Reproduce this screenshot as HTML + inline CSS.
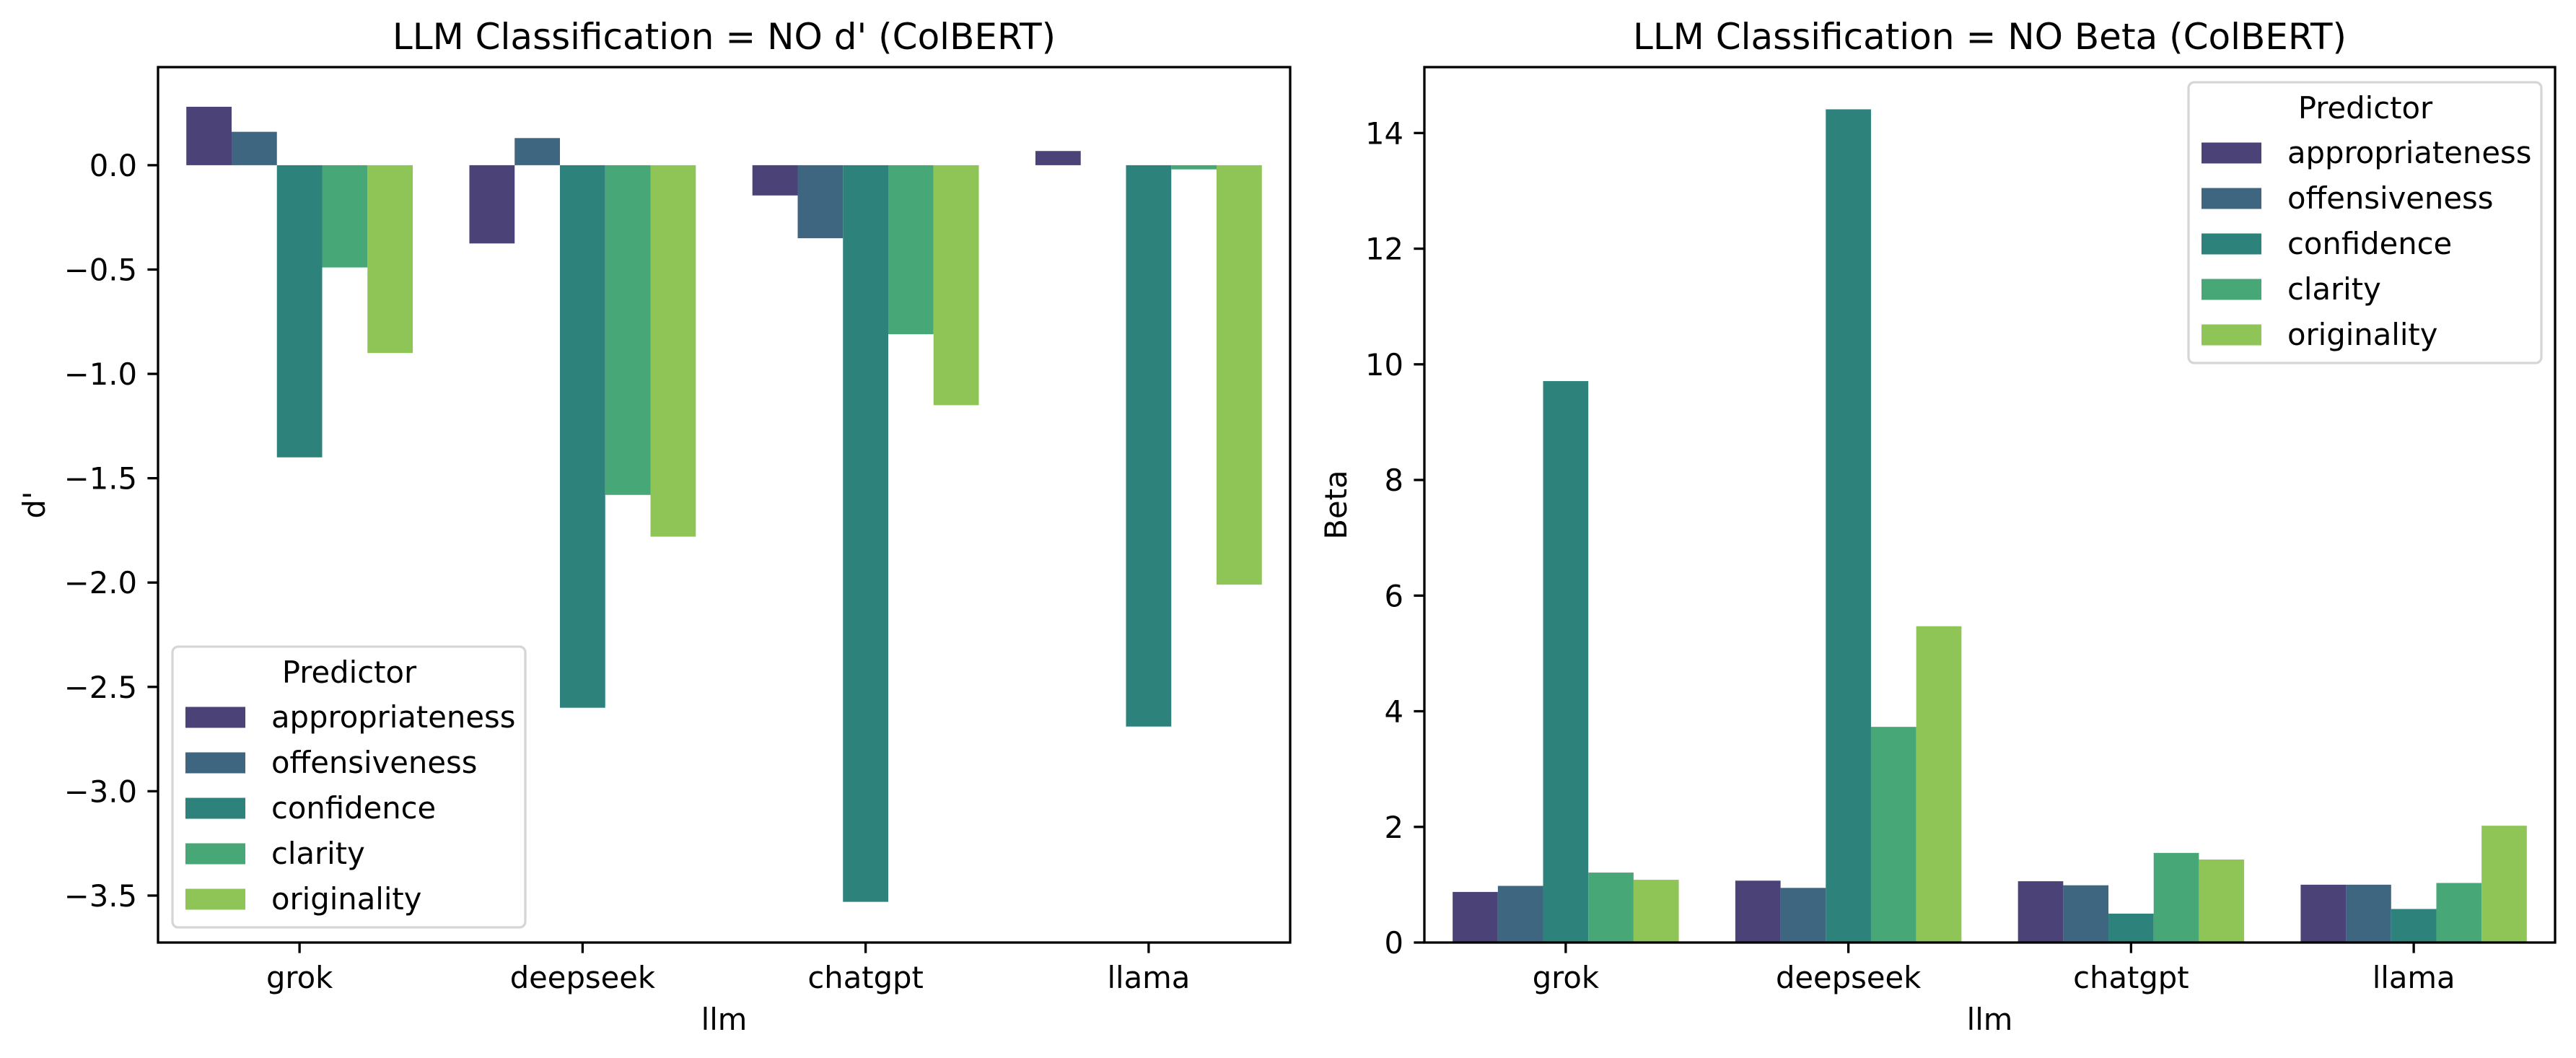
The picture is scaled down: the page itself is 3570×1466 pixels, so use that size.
<!DOCTYPE html>
<html><head><meta charset="utf-8">
<style>
html,body{margin:0;padding:0;background:#fff;}
svg{display:block;font-family:"DejaVu Sans","Liberation Sans",sans-serif;}
</style></head>
<body>
<svg id="fig" width="3570" height="1466" viewBox="0 0 3570 1466" xmlns="http://www.w3.org/2000/svg">
<rect width="3570" height="1466" fill="#fff"/>
</svg>
<script>
const categories = ["grok","deepseek","chatgpt","llama"];
const predictors = ["appropriateness","offensiveness","confidence","clarity","originality"];
const colors = ["#4b4277","#3e6680","#2e827c","#47a777","#8fc456"];
// d' values per predictor (rows) across categories
const dAppropriateness = [0.28, -0.375, -0.145, 0.068];
const dOffensiveness   = [0.16, 0.13, -0.35, 0.0];
const dConfidence      = [-1.40, -2.60, -3.53, -2.69];
const dClarity         = [-0.49, -1.58, -0.81, -0.02];
const dOriginality     = [-0.90, -1.78, -1.15, -2.01];
// Beta values
const bAppropriateness = [0.875, 1.07, 1.06, 1.0];
const bOffensiveness   = [0.98, 0.945, 0.99, 1.0];
const bConfidence      = [9.71, 14.41, 0.50, 0.58];
const bClarity         = [1.21, 3.73, 1.55, 1.03];
const bOriginality     = [1.085, 5.47, 1.435, 2.02];
const dTicks = [0.0,-0.5,-1.0,-1.5,-2.0,-2.5,-3.0,-3.5];
const dTickLabels = ["0.0","\u22120.5","\u22121.0","\u22121.5","\u22122.0","\u22122.5","\u22123.0","\u22123.5"];
const bTicks = [0,2,4,6,8,10,12,14];
const bTickLabels = ["0","2","4","6","8","10","12","14"];

const NS="http://www.w3.org/2000/svg";
const svg=document.getElementById('fig');
function mk(tag,attrs,parent){const e=document.createElementNS(NS,tag);for(const k in attrs)e.setAttribute(k,attrs[k]);(parent||svg).appendChild(e);return e;}

function drawPanel(opt){
  const g=mk('g',{});
  
  
  const L=opt.x0,R=opt.x1,T=93,B=1306;
  const y=v=>B-(v-opt.ymin)/(opt.ymax-opt.ymin)*(B-T);
  const band=(R-L)/categories.length;
  const bw=band*0.8/predictors.length;
  const xc=i=>L+band*(i+0.5);
  opt.series.forEach((arr,s)=>{
    arr.forEach((v,i)=>{
      const x=xc(i)-band*0.4+s*bw;
      const y0=y(0),y1=y(v);
      const r=mk('rect',{x:x,y:Math.min(y0,y1),width:bw,height:Math.abs(y1-y0),fill:colors[s]},g);
      
      
    });
  });
  const fr=mk('rect',{x:L,y:T,width:R-L,height:B-T,fill:'none',stroke:'#000','stroke-width':3.3},g);
  
  
  opt.ticks.forEach((t,k)=>{
    const yy=y(t);
    mk('line',{x1:L-14.6,x2:L,y1:yy,y2:yy,stroke:'#000','stroke-width':3.3},g);
    const tx=mk('text',{x:L-29,y:yy+15,'text-anchor':'end','font-size':41.7,fill:'#000'},g);
    tx.textContent=opt.tickLabels[k];
    
    
  });
  categories.forEach((c,i)=>{
    mk('line',{x1:xc(i),x2:xc(i),y1:B,y2:B+14.6,stroke:'#000','stroke-width':3.3},g);
    const tx=mk('text',{x:xc(i),y:1369,'text-anchor':'middle','font-size':41.7,fill:'#000'},g);
    tx.textContent=c;
    
    
  });
  const xl=mk('text',{x:(L+R)/2,y:1427,'text-anchor':'middle','font-size':41.7,fill:'#000'},g);
  xl.textContent='llm';
  
  
  const yl=mk('text',{x:0,y:0,'text-anchor':'middle','font-size':41.7,fill:'#000',transform:'translate('+opt.ylabX+','+((T+B)/2)+') rotate(-90)'},g);
  yl.textContent=opt.ylabel;
  
  
  const ti=mk('text',{x:(L+R)/2,y:68,'text-anchor':'middle','font-size':50,fill:'#000'},g);
  ti.textContent=opt.title;
  
  
  const lg=mk('g',{},g);
  
  
  const lx=opt.legX,ly=opt.legY;
  mk('rect',{x:lx,y:ly,width:489,height:389,rx:8,fill:'#fff','fill-opacity':0.8,stroke:'#d6d6d6','stroke-width':3.3},lg);
  const lt=mk('text',{x:lx+245,y:ly+50,'text-anchor':'middle','font-size':41.7,fill:'#000'},lg);
  lt.textContent='Predictor';
  
  
  predictors.forEach((p,s)=>{
    const cy=ly+98+s*63;
    const e=mk('g',{},lg);
    
    
    mk('rect',{x:lx+18,y:cy-14.5,width:83,height:29,fill:colors[s]},e);
    const t=mk('text',{x:lx+137,y:cy+14,'font-size':41.7,fill:'#000'},e);
    t.textContent=p;
  });
}

drawPanel({name:'dprime-chart',x0:219,x1:1788,ymin:-3.725,ymax:0.47,
  series:[dAppropriateness,dOffensiveness,dConfidence,dClarity,dOriginality],
  ticks:dTicks,tickLabels:dTickLabels,ylabel:"d'",ylabX:62,
  title:"LLM Classification = NO d' (ColBERT)",legX:239,legY:896});
drawPanel({name:'beta-chart',x0:1974,x1:3541,ymin:0,ymax:15.14,
  series:[bAppropriateness,bOffensiveness,bConfidence,bClarity,bOriginality],
  ticks:bTicks,tickLabels:bTickLabels,ylabel:"Beta",ylabX:1866,
  title:"LLM Classification = NO Beta (ColBERT)",legX:3033,legY:114});
</script>
</body></html>
